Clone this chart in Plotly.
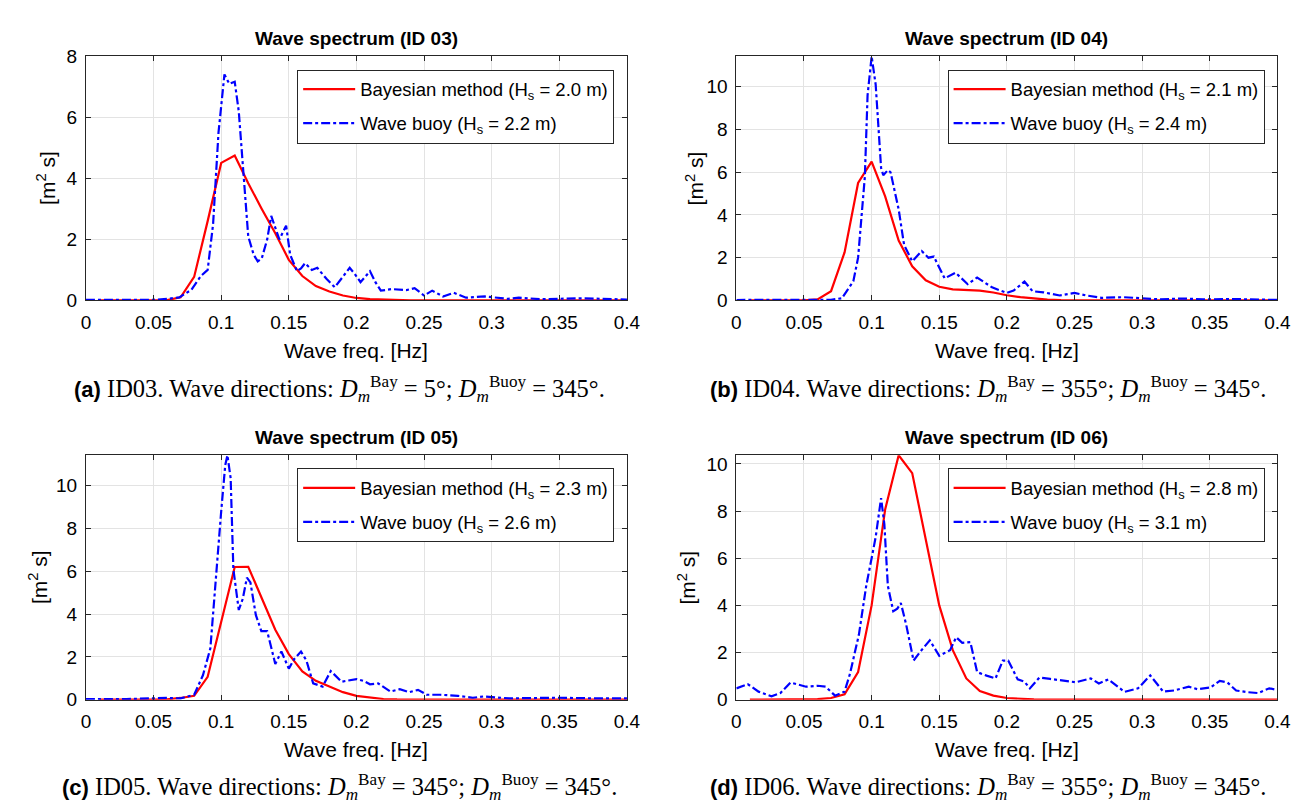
import plotly.graph_objects as go

W, H = 1311, 802

# ---------------- data ----------------
bay_f = [0.01, 0.02, 0.03, 0.04, 0.05, 0.06, 0.07, 0.08, 0.09, 0.10,
         0.11, 0.12, 0.13, 0.14, 0.15, 0.16, 0.17, 0.18, 0.19, 0.20,
         0.21, 0.22, 0.23, 0.24, 0.25, 0.26, 0.27, 0.28, 0.29, 0.30,
         0.31, 0.32, 0.33, 0.34, 0.35, 0.36, 0.37, 0.38, 0.39, 0.40]

bay_S_03 = [0, 0, 0, 0, 0, 0.01, 0.1, 0.77, 2.6, 4.51,
            4.75, 3.84, 3.0, 2.2, 1.33, 0.8, 0.47, 0.29, 0.16, 0.08,
            0.04, 0.02, 0.01, 0, 0, 0, 0, 0, 0, 0,
            0, 0, 0, 0, 0, 0, 0, 0, 0, 0]
bay_S_04 = [0, 0, 0, 0, 0, 0.05, 0.43, 2.25, 5.5, 6.5,
            4.87, 2.8, 1.6, 0.94, 0.64, 0.52, 0.49, 0.46, 0.37, 0.24,
            0.15, 0.08, 0.04, 0.02, 0.01, 0, 0, 0, 0, 0,
            0, 0, 0, 0, 0, 0, 0, 0, 0, 0]
bay_S_05 = [0, 0, 0, 0, 0, 0.02, 0.08, 0.18, 1.07, 3.65,
            6.2, 6.21, 4.72, 3.27, 2.13, 1.32, 0.88, 0.61, 0.35, 0.18,
            0.09, 0.03, 0.01, 0, 0, 0, 0, 0, 0, 0,
            0, 0, 0, 0, 0, 0, 0, 0, 0, 0]
bay_S_06 = [0, 0, 0, 0, 0, 0.02, 0.07, 0.23, 1.17, 4.0,
            8.07, 10.37, 9.61, 6.83, 4.0, 2.1, 0.9, 0.37, 0.17, 0.07,
            0.03, 0.01, 0, 0, 0, 0, 0, 0, 0, 0,
            0, 0, 0, 0, 0, 0, 0, 0, 0, 0]

buoy_f_03 = [0, 0.02, 0.05, 0.06, 0.069, 0.078, 0.085, 0.09, 0.094, 0.098,
             0.1024, 0.106, 0.11, 0.113, 0.117, 0.12, 0.124, 0.127, 0.13, 0.134,
             0.137, 0.14, 0.143, 0.148, 0.151, 0.156, 0.159, 0.162, 0.167, 0.171,
             0.178, 0.184, 0.19, 0.195, 0.199, 0.203, 0.21, 0.214, 0.218, 0.226,
             0.237, 0.243, 0.25, 0.256, 0.264, 0.272, 0.281, 0.295, 0.312, 0.32,
             0.336, 0.368, 0.4]
buoy_S_03 = [0.02, 0.02, 0.02, 0.05, 0.1, 0.35, 0.8, 1.0, 2.5, 5.5,
             7.41, 7.1, 7.17, 6.2, 3.7, 2.1, 1.5, 1.28, 1.38, 2.0,
             2.77, 2.4, 2.0, 2.45, 1.5, 0.96, 1.05, 1.22, 1.0, 1.07,
             0.7, 0.43, 0.8, 1.07, 0.85, 0.6, 0.96, 0.6, 0.32, 0.37,
             0.34, 0.4, 0.16, 0.32, 0.13, 0.25, 0.09, 0.13,
             0.05, 0.09, 0.04, 0.07, 0.03]

buoy_f_04 = [0, 0.03, 0.06, 0.07, 0.078, 0.0865, 0.09, 0.095, 0.097, 0.1,
             0.103, 0.107, 0.1086, 0.112, 0.114, 0.12, 0.124, 0.13, 0.137, 0.142,
             0.146, 0.154, 0.162, 0.171, 0.178, 0.189, 0.2, 0.205, 0.213, 0.219,
             0.227, 0.239, 0.25, 0.259, 0.27, 0.286, 0.3, 0.313, 0.33, 0.345,
             0.37, 0.4]
buoy_S_04 = [0.02, 0.02, 0.02, 0.03, 0.1, 0.9, 2.0, 5.8, 9.6, 11.42,
             10.1, 6.2, 5.86, 6.1, 6.0, 4.26, 2.6, 1.83, 2.31, 2.0,
             2.05, 1.03, 1.3, 0.76, 1.07, 0.61, 0.35, 0.46, 0.88, 0.43,
             0.38, 0.23, 0.35, 0.23, 0.12, 0.15, 0.1, 0.05, 0.09, 0.05,
             0.06, 0.02]

buoy_f_05 = [0, 0.03, 0.06, 0.07, 0.08, 0.0865, 0.092, 0.096, 0.1, 0.103,
             0.1046, 0.107, 0.109, 0.113, 0.116, 0.119, 0.1216, 0.1256, 0.1297, 0.134,
             0.14, 0.1445, 0.15, 0.154, 0.159, 0.163, 0.168, 0.175, 0.181, 0.189,
             0.2, 0.205, 0.21, 0.216, 0.225, 0.232, 0.239, 0.2455, 0.252, 0.262,
             0.275, 0.286, 0.294, 0.313, 0.348, 0.378, 0.4]
buoy_S_05 = [0.03, 0.03, 0.08, 0.06, 0.23, 1.14, 2.4, 5.8, 8.8, 10.96,
             11.42, 10.35, 6.1, 4.19, 4.72, 5.7, 5.48, 3.96, 3.2, 3.2,
             1.67, 2.25, 1.45, 1.9, 2.25, 1.83, 0.76, 0.61, 1.34, 0.84,
             0.96, 0.88, 0.72, 0.76, 0.38, 0.49, 0.35, 0.46, 0.23, 0.23,
             0.18, 0.09, 0.15, 0.06, 0.09, 0.06, 0.06]

buoy_f_06 = [0, 0.0084, 0.0164, 0.026, 0.0326, 0.04, 0.0515, 0.06, 0.066, 0.073,
             0.08, 0.084, 0.0906, 0.096, 0.1, 0.103, 0.107, 0.1094, 0.112, 0.116,
             0.119, 0.1216, 0.1256, 0.131, 0.136, 0.143, 0.15, 0.158, 0.1625, 0.167,
             0.173, 0.178, 0.185, 0.1916, 0.197, 0.201, 0.208, 0.213, 0.217, 0.224,
             0.232, 0.2415, 0.251, 0.262, 0.268, 0.275, 0.287, 0.297, 0.306, 0.3156,
             0.3237, 0.3345, 0.341, 0.3507, 0.3574, 0.363, 0.3695, 0.3776, 0.3857, 0.394,
             0.4]
buoy_S_06 = [0.48, 0.66, 0.34, 0.14, 0.28, 0.73, 0.55, 0.59, 0.55, 0.17,
             0.34, 1.1, 2.76, 4.83, 6.0, 6.9, 8.55, 7.45, 4.83, 3.75,
             3.86, 4.1, 3.17, 1.66, 2.04, 2.52, 1.86, 2.1, 2.65, 2.41,
             2.44, 1.17, 1.02, 0.9, 1.66, 1.66, 0.86, 0.76, 0.48, 0.94,
             0.88, 0.8, 0.74, 0.9, 0.69, 0.86, 0.33, 0.48, 1.03, 0.34,
             0.39, 0.55, 0.44, 0.52, 0.8, 0.73, 0.39, 0.32, 0.28, 0.48,
             0.41]

panel_ids = ["03", "04", "05", "06"]
hs_bay = ["2.0", "2.1", "2.3", "2.8"]
hs_buoy = ["2.2", "2.4", "2.6", "3.1"]
dir_bay = ["5", "355", "345", "355"]
dir_buoy = ["345", "345", "345", "345"]
letters = ["a", "b", "c", "d"]
y_max = [8, 11.42, 11.42, 10.37]
y_ticks = [[0, 2, 4, 6, 8], [0, 2, 4, 6, 8, 10], [0, 2, 4, 6, 8, 10], [0, 2, 4, 6, 8, 10]]
x_ticks = [0, 0.05, 0.1, 0.15, 0.2, 0.25, 0.3, 0.35, 0.4]
x_ticktext = ["0", "0.05", "0.1", "0.15", "0.2", "0.25", "0.3", "0.35", "0.4"]

bay_S = [bay_S_03, bay_S_04, bay_S_05, bay_S_06]
buoy_f = [buoy_f_03, buoy_f_04, buoy_f_05, buoy_f_06]
buoy_S = [buoy_S_03, buoy_S_04, buoy_S_05, buoy_S_06]

# ---------------- layout geometry (pixels) ----------------
plots_x = [(74, 623), (734, 1283), (74, 623), (734, 1283)]
plots_y = [(39.5, 290), (39.5, 290), (449, 700), (449, 700)]
ylabel_x = [34, 692, 26, 684]
caption_cx = [331, 989, 331, 989]
caption_y = [381, 381, 790, 790]
title_y = [21, 21, 431, 431]
xlabel_y = [341, 341, 751, 751]


def fx(p):
    return p / W


def fy(p):
    return 1 - p / H


SANS = "Liberation Sans, Arial, Helvetica, sans-serif"
SERIF = "Liberation Serif, Times New Roman, serif"
AX_COL = "#262626"
GRID_COL = "#e3e3e3"

fig = go.Figure()
annotations = []
layout = dict(
    width=W, height=H,
    margin=dict(l=0, r=0, t=0, b=0),
    paper_bgcolor="white", plot_bgcolor="white",
    font=dict(family=SANS, size=19, color="black"),
    showlegend=True,
)

for i in range(4):
    n = "" if i == 0 else str(i + 1)
    xa, ya = "x" + n, "y" + n
    leg = "legend" if i == 0 else "legend" + str(i + 1)
    fig.add_trace(go.Scatter(
        x=bay_f, y=bay_S[i], mode="lines", xaxis=xa, yaxis=ya, legend=leg,
        legendgroup="bay%d" % i,
        name="Bayesian method (H<sub>s</sub> = %s m)" % hs_bay[i],
        line=dict(color="#ff0000", width=2.2)))
    fig.add_trace(go.Scatter(
        x=buoy_f[i], y=buoy_S[i], mode="lines", xaxis=xa, yaxis=ya, legend=leg,
        legendgroup="buoy%d" % i,
        name="Wave buoy (H<sub>s</sub> = %s m)" % hs_buoy[i],
        line=dict(color="#0000ff", width=2.2, dash="9px,3px,3px,3px")))

    x0, x1 = plots_x[i]
    y0, y1 = plots_y[i]
    common = dict(showline=True, linecolor=AX_COL, linewidth=1, mirror="ticks",
                  ticks="inside", ticklen=5, tickcolor=AX_COL, tickwidth=1,
                  showgrid=True, gridcolor=GRID_COL, gridwidth=1, zeroline=False,
                  tickfont=dict(family=SANS, size=19, color="black"))
    layout["xaxis" + n] = dict(
        domain=[fx(x0), fx(x1)], anchor=ya, range=[0, 0.4],
        tickvals=x_ticks, ticktext=x_ticktext, ticklabelstandoff=5, **common)
    layout["yaxis" + n] = dict(
        domain=[fy(y1), fy(y0)], anchor=xa, range=[0, y_max[i]],
        tickvals=y_ticks[i], ticklabelstandoff=4, **common)
    layout[leg] = dict(
        x=fx(x1 - 13), y=fy(y0 + 13.5), xanchor="right", yanchor="top",
        bgcolor="white", bordercolor=AX_COL, borderwidth=1,
        font=dict(family=SANS, size=18.5, color="black"),
        tracegroupgap=7, itemwidth=52)

    # title
    annotations.append(dict(
        x=fx((x0 + x1) / 2), y=fy(title_y[i]), xref="paper", yref="paper",
        text="<b>Wave spectrum (ID %s)</b>" % panel_ids[i], showarrow=False,
        xanchor="center", yanchor="middle", font=dict(family=SANS, size=19)))
    # x label
    annotations.append(dict(
        x=fx((x0 + x1) / 2), y=fy(xlabel_y[i]), xref="paper", yref="paper",
        text="Wave freq. [Hz]", showarrow=False,
        xanchor="center", yanchor="middle", font=dict(family=SANS, size=21)))
    # y label
    annotations.append(dict(
        x=fx(ylabel_x[i]), y=fy((y0 + y1) / 2), xref="paper", yref="paper",
        text="[m<sup>2</sup> s]", showarrow=False, textangle=-90,
        xanchor="center", yanchor="middle", font=dict(family=SANS, size=21)))
    # caption
    cap = ("<span style=\"font-family:Liberation Sans;font-weight:bold;font-size:22px\">(%s)</span> "
           "ID%s. Wave directions: <i>D</i><sub><i>m</i></sub><sup>Bay</sup>&nbsp;=&nbsp;%s°; "
           "<i>D</i><sub><i>m</i></sub><sup>Buoy</sup>&nbsp;=&nbsp;%s°.") % (
        letters[i], panel_ids[i], dir_bay[i], dir_buoy[i])
    annotations.append(dict(
        x=fx(caption_cx[i]), y=fy(caption_y[i]), xref="paper", yref="paper",
        text=cap, showarrow=False, xanchor="center", yanchor="middle",
        font=dict(family=SERIF, size=24.5, color="black")))

layout["annotations"] = annotations
fig.update_layout(**layout)
fig.write_html("out.html")
